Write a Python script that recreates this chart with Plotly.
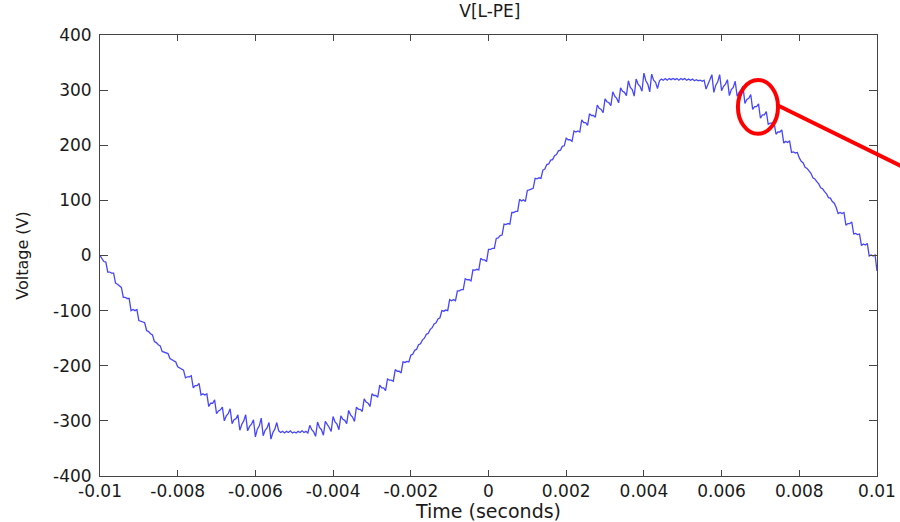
import numpy as np
import plotly.graph_objects as go

# ---------------- data ----------------
t_start_s = -0.01
sample_step_s = 0.00005

# voltage samples, one row per millisecond (20 samples of 0.05 ms)
volts = [
    0, -7, -11, -12, -30, -30, -32, -32, -50, -52, -56, -58, -76, -76, -78, -78, -100, -98, -100, -98,
    -118, -119, -121, -122, -136, -138, -142, -144, -156, -158, -162, -164, -174, -175, -177, -178, -187, -189, -191, -193,
    -202, -204, -206, -208, -222, -220, -220, -218, -240, -236, -236, -232, -253, -251, -253, -251, -274, -268, -268, -262,
    -287, -282, -280, -275, -300, -291, -287, -278, -305, -298, -296, -289, -317, -306, -300, -289, -318, -310, -306, -298,
    -329, -315, -309, -295, -327, -317, -313, -303, -333, -321, -315, -303, -318, -321, -319, -322, -319, -321, -318, -322,
    -320, -322, -319, -321, -318, -321, -319, -322, -308, -316, -320, -328, -302, -312, -316, -326, -301, -308, -312, -319,
    -292, -302, -306, -316, -291, -297, -299, -305, -281, -289, -293, -301, -275, -279, -279, -283, -260, -266, -268, -274,
    -251, -254, -254, -257, -235, -240, -240, -245, -224, -226, -226, -228, -207, -210, -210, -213, -193, -194, -192, -193,
    -181, -179, -172, -170, -162, -160, -153, -150, -143, -141, -134, -131, -124, -122, -115, -113, -100, -101, -99, -100,
    -80, -82, -80, -82, -64, -64, -62, -62, -42, -44, -44, -46, -26, -27, -25, -26, -5, -8, -8, -11,
    11, 11, 13, 13, 31, 32, 36, 37, 57, 56, 58, 57, 78, 78, 80, 80, 102, 99, 101, 98,
    118, 119, 121, 122, 140, 139, 141, 140, 155, 157, 165, 166, 173, 174, 181, 183, 190, 191, 198, 199,
    213, 210, 210, 207, 226, 224, 226, 224, 246, 241, 241, 236, 257, 254, 254, 251, 273, 267, 265, 259,
    284, 279, 277, 272, 297, 289, 285, 277, 304, 298, 296, 290, 317, 305, 301, 289, 320, 311, 307, 298,
    331, 317, 311, 297, 329, 318, 314, 303, 317, 320, 318, 321, 318, 321, 319, 321, 319, 321, 318, 321,
    319, 321, 318, 320, 318, 320, 317, 319, 317, 318, 316, 318, 302, 312, 318, 328, 296, 309, 315, 328,
    299, 307, 311, 319, 290, 301, 305, 316, 289, 296, 300, 307, 276, 283, 285, 292, 265, 270, 270, 275,
    249, 255, 255, 261, 238, 240, 240, 242, 220, 224, 224, 228, 204, 207, 205, 208, 187, 188, 186, 187,
    177, 171, 168, 160, 158, 153, 149, 141, 139, 134, 130, 123, 121, 116, 112, 105, 104, 98, 95, 87,
    76, 78, 76, 78, 55, 58, 58, 61, 39, 40, 38, 39, 18, 21, 19, 22, -1, 1, -1, 1,
    -28,
]

x_tick_values = [-0.01, -0.008, -0.006, -0.004, -0.002, 0, 0.002, 0.004, 0.006, 0.008, 0.01]
x_tick_labels = ["-0.01", "-0.008", "-0.006", "-0.004", "-0.002", "0", "0.002", "0.004", "0.006", "0.008", "0.01"]
y_tick_values = [-400, -300, -200, -100, 0, 100, 200, 300, 400]
y_tick_labels = ["-400", "-300", "-200", "-100", "0", "100", "200", "300", "400"]

title_text = "V[L-PE]"
x_title = "Time (seconds)"
y_title = "Voltage (V)"

# ---------------- figure ----------------
times = t_start_s + sample_step_s * np.arange(len(volts))

FONT = "DejaVu Sans"
AX = "#454545"
TXT = "#1a1a1a"

fig = go.Figure(
    go.Scatter(
        x=times, y=volts, mode="lines",
        line=dict(color="#4646ff", width=1.3),
        hoverinfo="skip", showlegend=False,
    )
)

fig.update_layout(
    width=900, height=522,
    margin=dict(l=100, r=23, t=35, b=46),
    paper_bgcolor="white", plot_bgcolor="white",
    font=dict(family=FONT, size=17, color=TXT),
    title=dict(text=title_text, x=0.5443, xanchor="center", y=0.978, yanchor="middle",
               font=dict(family=FONT, size=17, color=TXT)),
    showlegend=False,
)

fig.update_xaxes(
    range=[-0.01, 0.01], tickmode="array", tickvals=x_tick_values, ticktext=x_tick_labels,
    ticks="inside", ticklen=6, tickwidth=1, tickcolor=AX,
    showline=True, linecolor=AX, linewidth=1, mirror="ticks",
    showgrid=False, zeroline=False, automargin=False,
    tickfont=dict(family=FONT, size=17, color=TXT),
    title=dict(text=x_title, font=dict(family=FONT, size=19, color=TXT), standoff=0),
)
fig.update_yaxes(
    range=[-400, 400], tickmode="array", tickvals=y_tick_values, ticktext=y_tick_labels,
    ticks="inside", ticklen=8, tickwidth=1, tickcolor=AX,
    showline=True, linecolor=AX, linewidth=1, mirror="ticks",
    showgrid=False, zeroline=False, automargin=False,
    tickfont=dict(family=FONT, size=17, color=TXT),
    ticklabelstandoff=4,
    title=dict(text=y_title, font=dict(family=FONT, size=16, color=TXT), standoff=20),
)

# red highlight annotation (ellipse + pointer line)
fig.add_shape(type="circle", xref="paper", yref="paper",
              x0=0.821, x1=0.8726, y0=0.776, y1=0.898,
              line=dict(color="#ff0000", width=4))
fig.add_shape(type="line", xref="paper", yref="paper",
              x0=0.8726, y0=0.840, x1=1.031, y1=0.703,
              line=dict(color="#ff0000", width=4))

fig.write_html("out.html")
